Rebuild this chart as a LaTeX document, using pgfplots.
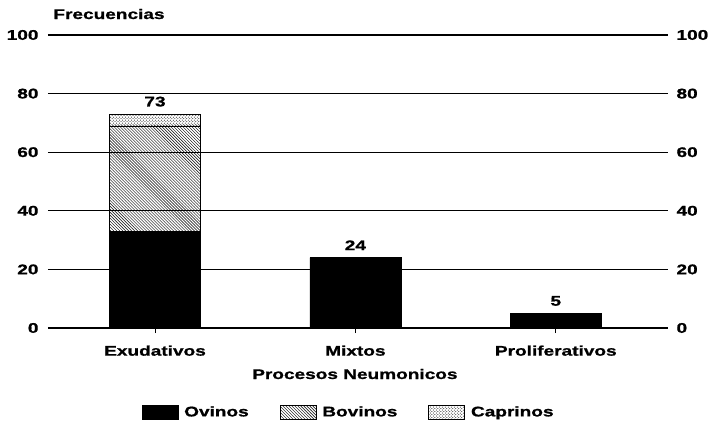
\documentclass[border=0pt]{standalone}
\usepackage{fontspec}
\setmainfont{Liberation Sans}[FakeStretch=1.36, FakeBold=1.0]
\usepackage{pgfplots}
\pgfplotsset{compat=1.18}
\usetikzlibrary{patterns}
\newcommand{\ff}{\fontsize{14bp}{16bp}\selectfont\bfseries}
\begin{document}
\begin{tikzpicture}
\useasboundingbox (-48bp,-106bp) rectangle (662bp,328bp);
\begin{axis}[
  at={(0,0)}, anchor=south west,
  scale only axis, width=620bp, height=293bp,
  xmin=-0.534, xmax=2.56, ymin=0, ymax=100,
  ybar stacked, bar width=0.454,
  xtick={0,1,2}, xticklabels={Exudativos,Mixtos,Proliferativos},
  ytick={0,20,40,60,80,100},
  ymajorgrids, grid style={black, line width=1.3bp},
  axis line style={draw=none},
  ytick style={draw=none},
  xtick style={black, line width=0.8bp},
  x tick label style={yshift=-9bp},
  y tick label style={xshift=-1bp},
  tick align=outside, major tick length=5bp,
  xtick pos=bottom, ytick pos=left,
  /pgf/number format/assume math mode=true,
  every tick label/.append style={font=\ff},
  every axis x label/.style={at={(axis description cs:0.495,-0.157)}, anchor=center, font=\ff},
  xlabel={Procesos Neumonicos},
  legend columns=3,
  legend style={draw=none, at={(axis description cs:0.488,-0.287)}, anchor=center, font=\ff,
    /tikz/every even column/.append style={column sep=25bp},
    nodes={inner xsep=6bp}},
  legend image code/.code={\draw[#1, line width=0.6bp] (0bp,-7bp) rectangle (36bp,7bp);},
]
\addplot[fill=black, draw=black] coordinates {(0,33) (1,24) (2,5)};
\addplot[pattern=north west lines, draw=black] coordinates {(0,36) (1,0) (2,0)};
\addplot[pattern=crosshatch dots, draw=black] coordinates {(0,4) (1,0) (2,0)};
\legend{Ovinos, Bovinos, Caprinos}
\end{axis}
\begin{axis}[
  at={(0,0)}, anchor=south west,
  scale only axis, width=620bp, height=293bp,
  xmin=-0.534, xmax=2.56, ymin=0, ymax=100,
  axis x line=none, axis y line*=right,
  y axis line style={draw=none},
  ytick={0,20,40,60,80,100}, ytick style={draw=none},
  y tick label style={xshift=5bp},
  /pgf/number format/assume math mode=true,
  every tick label/.append style={font=\ff},
  nodes near coords style={font=\ff, anchor=south, yshift=4bp},
]
\addplot[draw=none, mark=none, point meta=explicit symbolic, nodes near coords]
  coordinates {(0,73) [73] (1,24) [24] (2,5) [5]};
\end{axis}
\node[font=\ff, anchor=center, inner sep=0pt] at (61bp,314bp) {Frecuencias};
\end{tikzpicture}
\end{document}
